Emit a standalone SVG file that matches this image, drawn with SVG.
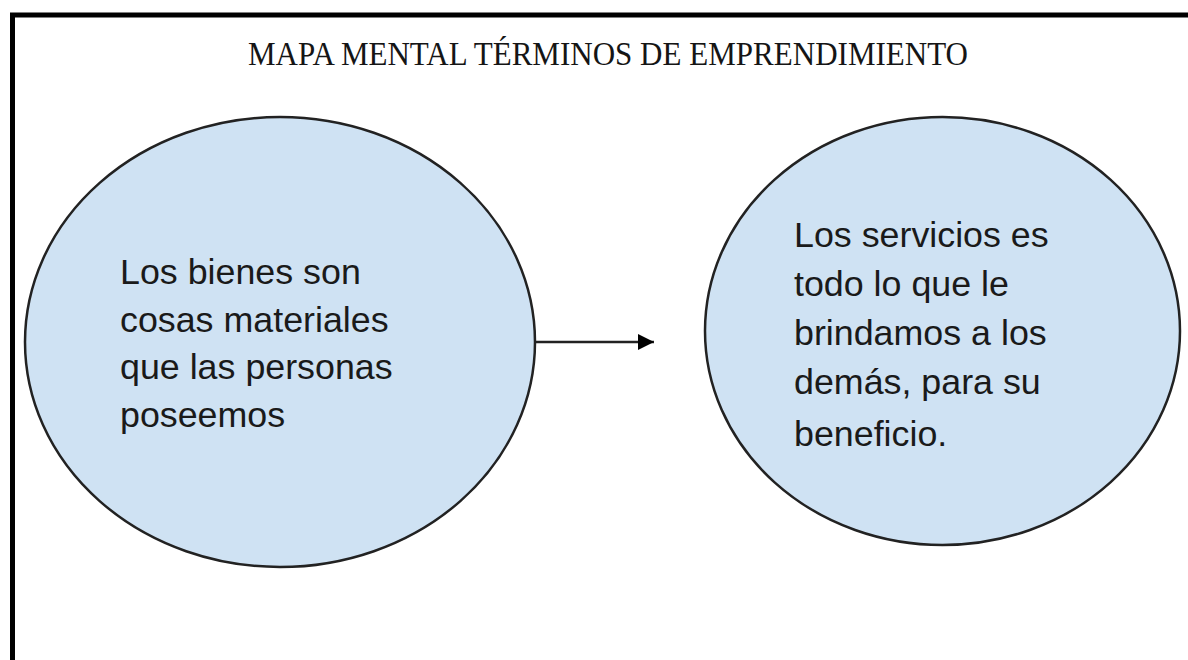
<svg xmlns="http://www.w3.org/2000/svg" width="1188" height="660" viewBox="0 0 1188 660">
<defs>
<style>
.title{font-family:"Liberation Serif","Times New Roman",serif;font-size:33px;fill:#151515}
.node ellipse{fill:#cfe2f3;stroke:#222;stroke-width:2.5}
.lbl{font-family:"Liberation Sans",Arial,sans-serif;font-size:35.8px;fill:#1a1a1a}
.conn{stroke:#222;stroke-width:2.5;fill:none}
</style>
<marker id="arr" viewBox="0 0 10 10" refX="10" refY="5" markerWidth="16" markerHeight="19" markerUnits="userSpaceOnUse" orient="auto">
<path d="M0,0 L10,5 L0,10 z" fill="#000"/>
</marker>
</defs>
<rect width="1188" height="660" fill="#fff"/>
<rect x="12.5" y="15" width="1200" height="700" fill="none" stroke="#000" stroke-width="5"/>
<text class="title" x="248" y="65" textLength="720" lengthAdjust="spacingAndGlyphs">MAPA MENTAL TÉRMINOS DE EMPRENDIMIENTO</text>
<g id="node-bienes" class="node">
<ellipse cx="280" cy="342" rx="255" ry="225"/>
<text class="lbl" x="120" y="284">Los bienes son</text>
<text class="lbl" x="120" y="332">cosas materiales</text>
<text class="lbl" x="120" y="379">que las personas</text>
<text class="lbl" x="120" y="427">poseemos</text>
</g>
<g id="node-servicios" class="node">
<ellipse cx="942.5" cy="331" rx="237.5" ry="214"/>
<text class="lbl" x="794" y="247">Los servicios es</text>
<text class="lbl" x="794" y="296">todo lo que le</text>
<text class="lbl" x="794" y="345">brindamos a los</text>
<text class="lbl" x="794" y="394">demás, para su</text>
<text class="lbl" x="794" y="446">beneficio.</text>
</g>
<g id="connectors">
<line class="conn" x1="536" y1="342" x2="654" y2="342" marker-end="url(#arr)"/>
</g>
</svg>
